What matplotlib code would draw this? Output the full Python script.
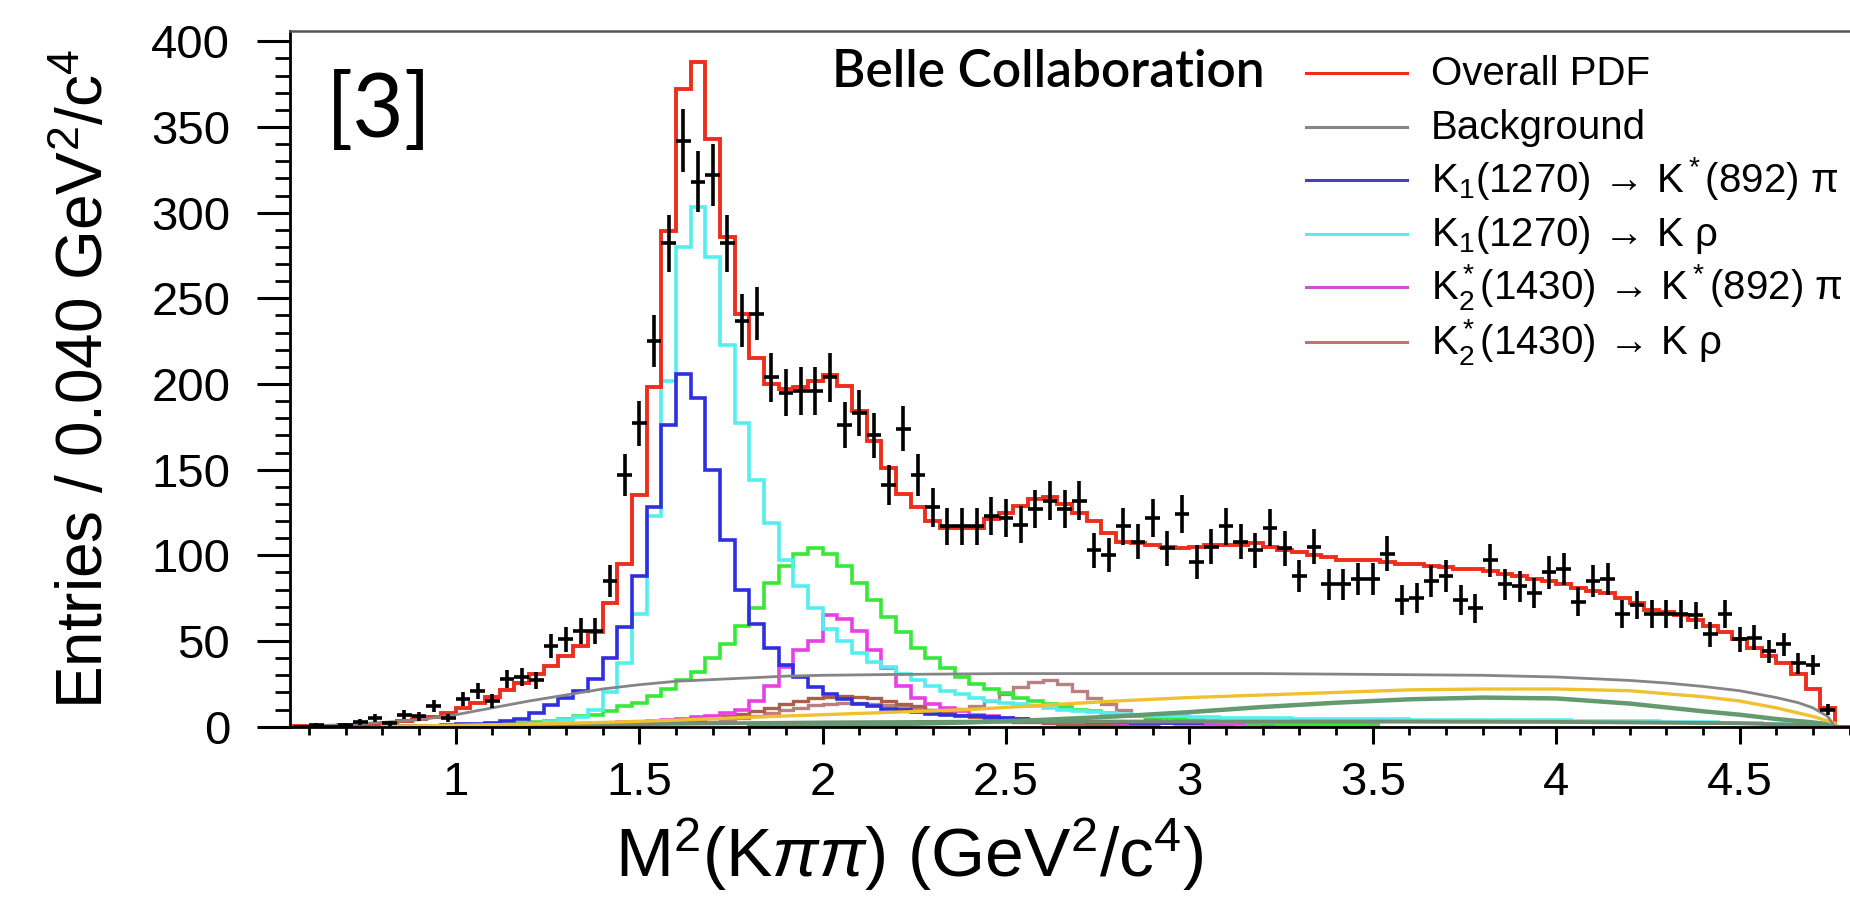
import numpy as np
import matplotlib.pyplot as plt
from matplotlib.lines import Line2D
from matplotlib.ticker import MultipleLocator, FuncFormatter

plt.rcParams['font.family'] = ['Liberation Sans', 'DejaVu Sans']
plt.rcParams['mathtext.fontset'] = 'custom'
plt.rcParams['mathtext.rm'] = 'Liberation Sans'
plt.rcParams['mathtext.it'] = 'Liberation Sans:italic'
plt.rcParams['mathtext.bf'] = 'Liberation Sans:bold'

# binning of M^2(K pi pi): 0.04 GeV^2/c^4
bin_w = 0.04
data_lo = 0.56

# data, bins 0.58 ... 4.74 (centres)
data_counts = [0, 1, 0, 1, 3, 5, 2, 7, 6, 12, 5, 16, 21, 15, 28, 29, 27, 47, 51, 56,
               56, 85, 147, 177, 225, 282, 342, 318, 322, 282, 237, 241, 204, 195, 196, 196, 204, 176, 183, 170,
               141, 174, 147, 128, 117, 117, 117, 123, 122, 118, 127, 132, 127, 132, 103, 100, 117, 108, 122, 104,
               124, 96, 105, 117, 108, 103, 116, 104, 88, 105, 83, 83, 86, 86, 101, 74, 75, 85, 88, 74,
               69, 97, 83, 82, 78, 90, 92, 73, 85, 86, 66, 71, 66, 66, 66, 65, 54, 66, 51, 52,
               44, 48, 37, 36, 10]

# overall fit, same bins as the data
overall_pdf = [0.2, 0.3, 0.5, 0.8, 1.1, 1.6, 2.3, 3.3, 4.4, 5.8, 7.8, 10.7, 13.6, 17.5, 21.5, 25.5, 30.5, 35.5, 41, 47,
               55, 72, 95, 135, 198, 289, 372, 388, 343, 286, 241, 215, 200, 197, 198, 202, 205, 199, 184, 167,
               151, 136, 128, 120, 116, 116, 116, 121, 125, 129, 133, 134, 130, 125, 120, 113, 108, 107, 106, 105,
               104, 105, 106, 106, 106, 107, 105, 103, 102, 100, 99, 97, 97, 97, 96, 95, 95, 94, 93, 92,
               92, 91, 89, 88, 86, 85, 83, 81, 79, 78, 75, 72, 68, 67, 65, 62, 59, 55, 51, 46,
               41, 37, 31, 22, 11]

# K1(1270) -> K*(892) pi, bins from 0.84
k1_kstpi_lo = 0.84
k1_kstpi = [0.3, 0.5, 0.7, 1.0, 1.3, 1.8, 2.4, 3.2, 4.5, 8, 12.7, 16.5, 21, 28, 40, 58, 88, 128, 176, 206,
            192, 150, 109, 80, 60, 46, 36, 29, 23, 19, 16, 13.5, 12, 10.5, 9.5, 8.5, 7.5, 7, 6.5, 6,
            5.5, 5, 4.5, 4, 3.7, 3.4, 3.1, 2.9, 2.7, 2.5, 2.4, 2.3, 2.2, 2.1, 2.0]

# K1(1270) -> K rho, bins from 1.08
k1_krho_lo = 1.08
k1_krho = [0.5, 0.8, 1.2, 1.8, 2.6, 3.8, 5.5, 10, 20, 37, 66, 123, 202, 280, 303, 274, 223, 177, 144, 119,
           97, 82, 69, 57, 50, 43, 38, 35, 31, 27, 24, 21, 19, 17, 15, 14, 13, 12, 11, 10,
           9, 8.5, 8, 7.5, 7, 6.5, 6, 6, 5.5, 5.5, 5, 5, 5, 4.8, 4.8, 4.6, 4.6, 4.5, 4.5, 4.4,
           4.4, 4.3, 4.3, 4.2, 4.2, 4.1, 4.1, 4.0, 4.0, 3.9, 3.9, 3.8, 3.8, 3.7, 3.6, 3.5, 3.4, 3.3, 3.2, 3.1,
           3.0, 2.9, 2.8, 2.6, 2.4, 2.2, 2.0, 1.8, 1.5, 1.2, 0.9, 0.5]

# green component, bins from 1.08
green_lo = 1.08
green_comp = [1, 1.5, 2, 2.5, 3.5, 4.5, 6, 7, 9, 12, 14, 18, 22, 27, 32, 40, 48, 59, 69, 84,
              94, 101, 104, 101, 94, 84, 74, 64, 55, 46, 40, 34, 29, 25, 22, 19.5, 17, 15, 13, 11.5,
              10, 9, 8, 7, 6, 5.5, 5, 4.5, 4, 3.5, 3, 2.7, 2.4, 2.1, 1.8, 1.5, 1.3, 1.1, 1.0, 0.8,
              0.7]

# K2*(1430) -> K*(892) pi, bins from 1.28
k2_kstpi_lo = 1.28
k2_kstpi = [1, 1.3, 1.6, 2, 2.5, 3, 3.5, 4, 4.5, 5.5, 6.5, 8, 10, 15, 24, 35, 45, 50, 65, 63,
            56, 45, 34, 24, 17, 13, 11, 9, 7, 6, 5, 4.5, 4, 3.6, 3.3, 3, 2.8, 2.6, 2.4, 2.2,
            2, 1.9, 1.8, 1.7, 1.6, 1.5, 1.4, 1.3, 1.2, 1.1, 1, 1, 0.9, 0.9, 0.8, 0.8]

# K2*(1430) -> K rho, bins from 1.48
k2_krho_lo = 1.48
k2_krho = [1.5, 2, 2.5, 3, 4, 5, 6, 7.5, 9, 11, 13, 15, 16.5, 17.5, 18, 17.5, 16.5, 15, 13.5, 12,
           10, 8.5, 7, 5.5, 4.5, 3.5, 3, 2.5, 2, 1.7, 1.4, 1.2, 1, 0.8, 0.7, 0.6]

# rosy component with the bump near 2.6, bins from 1.68
rosy_lo = 1.68
rosy_comp = [3, 4, 5, 6.5, 8, 9.5, 11, 12.5, 13.5, 14, 14, 13.5, 12.5, 11.5, 10.5, 10, 10, 10.5, 12, 15,
             19, 23, 26, 27, 25, 21, 17, 13, 9.5, 7, 5, 3.5, 2.5, 2, 1.5, 1]

# smooth components read at a few masses
bkg_m2 = [0.56, 0.6, 0.7, 0.8, 0.9, 1.0, 1.1, 1.2, 1.3, 1.4, 1.5, 1.6, 1.7, 1.8, 1.9, 2.0,
          2.2, 2.5, 2.8, 3.0, 3.2, 3.5, 3.8, 4.0, 4.2, 4.3, 4.4, 4.5, 4.6, 4.66, 4.7, 4.74, 4.76]
bkg_val = [0, 0.4, 1.2, 2.5, 4, 7, 11, 15, 18.5, 22, 24.5, 26.5, 27.5, 28.5, 29.5, 30,
           30.5, 31, 31, 31, 31, 30.5, 30, 29, 27, 25.5, 23.5, 21, 17, 14, 11, 6, 0]

gold_m2 = [0.8, 1.0, 1.2, 1.4, 1.6, 1.8, 2.0, 2.2, 2.4, 2.6, 2.8, 3.0, 3.2, 3.4, 3.6, 3.8,
           4.0, 4.2, 4.4, 4.5, 4.6, 4.7, 4.76]
gold_val = [0.3, 0.8, 1.5, 2.5, 3.8, 5.5, 7, 8.5, 10, 12.5, 15, 17, 18.5, 20, 21.5, 22,
            22, 21, 17.5, 15, 11, 6, 2]

sea_m2 = [1.8, 2.0, 2.2, 2.4, 2.6, 2.8, 3.0, 3.2, 3.4, 3.6, 3.8, 4.0, 4.2, 4.4, 4.5, 4.6, 4.7, 4.76]
sea_val = [0.5, 1, 1.5, 2.5, 4, 6, 8.5, 11.5, 14, 16, 17, 16.5, 13.5, 9, 7, 4.5, 2.5, 1]

low_m2 = [1.0, 1.5, 2.0, 2.5, 3.0, 3.5, 4.0, 4.5, 4.76]
low_val = [0.5, 1.5, 2.5, 3, 3, 3, 2.8, 2, 0.5]

legend_labels = ['Overall PDF', 'Background',
                 r'K$_1$(1270)$\,\rightarrow\,$K$^*$(892) π',
                 r'K$_1$(1270)$\,\rightarrow\,$K ρ',
                 r'K$_2^*$(1430)$\,\rightarrow\,$K$^*$(892) π',
                 r'K$_2^*$(1430)$\,\rightarrow\,$K ρ']

c_red = '#ee2e1c'
c_gray = '#858585'
c_blue = '#2f2fe0'
c_cyan = '#55eef0'
c_green = '#38e838'
c_mag = '#e640e6'
c_brown = '#a86048'
c_rosy = '#b88080'
c_gold = '#f0c030'
c_sea = '#639a70'


def edges_from(lo, vals):
    return np.round(lo + bin_w * np.arange(len(vals) + 1), 4)


W, H = 1850, 907
fig = plt.figure(figsize=(W / 100, H / 100), dpi=100)
ax = fig.add_axes([290 / W, 1 - 726.7 / H, 1 - 290 / W, (726.7 - 31) / H])

# smooth components
ax.plot(low_m2, low_val, color='#6f8f70', lw=2.8)
ax.plot(sea_m2, sea_val, color=c_sea, lw=3.2)
ax.plot(gold_m2, gold_val, color=c_gold, lw=2.4)
ax.plot(bkg_m2, bkg_val, color=c_gray, lw=2)

# binned components
ax.stairs(rosy_comp, edges_from(rosy_lo, rosy_comp), baseline=None, color=c_rosy, lw=2.4)
ax.stairs(k2_krho, edges_from(k2_krho_lo, k2_krho), baseline=None, color=c_brown, lw=2.4)
ax.stairs(k2_kstpi, edges_from(k2_kstpi_lo, k2_kstpi), baseline=None, color=c_mag, lw=2.6)
ax.stairs(green_comp, edges_from(green_lo, green_comp), baseline=None, color=c_green, lw=2.6)
ax.stairs(k1_krho, edges_from(k1_krho_lo, k1_krho), baseline=None, color=c_cyan, lw=2.6)
ax.stairs(k1_kstpi, edges_from(k1_kstpi_lo, k1_kstpi), baseline=None, color=c_blue, lw=2.6)

# overall pdf
data_edges = edges_from(data_lo, overall_pdf)
ax.stairs(overall_pdf, data_edges, baseline=0, color=c_red, lw=2.8)

ax.set_xlim(0.548, 4.801)
ax.set_ylim(0, 406)
xlo, xhi = ax.get_xlim()
ax.plot([xlo, data_edges[0]], [0, 0], color=c_red, lw=2.8)
ax.plot([data_edges[-1], xhi], [0, 0], color=c_red, lw=2.8)

# data points
centres = (data_edges[:-1] + data_edges[1:]) / 2
counts = np.array(data_counts, dtype=float)
ax.errorbar(centres, counts, yerr=np.sqrt(counts), xerr=bin_w / 2, fmt='none',
            ecolor='black', elinewidth=2.6, capsize=0, zorder=5)

# axes styling
ax.spines['right'].set_visible(False)
ax.spines['top'].set_color('#555555')
ax.spines['top'].set_linewidth(1.8)
ax.spines['left'].set_linewidth(2)
ax.spines['bottom'].set_linewidth(2)

ax.xaxis.set_major_locator(MultipleLocator(0.5))
ax.xaxis.set_minor_locator(MultipleLocator(0.1))
ax.yaxis.set_major_locator(MultipleLocator(50))
ax.yaxis.set_minor_locator(MultipleLocator(10))
ax.xaxis.set_major_formatter(FuncFormatter(lambda v, p: f'{v:g}'))
ax.tick_params(axis='y', which='major', direction='out', length=24, width=2.2, labelsize=34, pad=19)
ax.tick_params(axis='y', which='minor', direction='out', length=11, width=2)
ax.tick_params(axis='x', which='major', direction='out', length=12, width=2.2, labelsize=34, pad=13)
ax.tick_params(axis='x', which='minor', direction='out', length=6, width=2)

ax.set_xlabel(r'M$^2$(K$\pi\pi$) (GeV$^2$/c$^4$)', fontsize=50)
ax.xaxis.set_label_coords((909 - 290) / 1560, -0.128)
ax.set_ylabel('Entries / 0.040 GeV$^2$/c$^4$', fontsize=46)
ax.yaxis.set_label_coords((116 - 290) / 1560, 0.5)

# annotations
fig.text(326 / W, 1 - 137 / H, '[3]', fontsize=64, family='Lato',
         ha='left', va='baseline')
fig.text(832 / W, 1 - 87 / H, 'Belle Collaboration', fontsize=37, family='Lato',
         fontweight='semibold', ha='left', va='baseline')

# legend
leg_colors = [c_red, c_gray, '#4a3fb8', c_cyan, '#d050d0', '#c87070']
leg_rows = [73, 127, 180, 234, 287, 342]
for lab, col, ry in zip(legend_labels, leg_colors, leg_rows):
    fig.add_artist(Line2D([1306 / W, 1407 / W], [1 - ry / H, 1 - ry / H],
                          transform=fig.transFigure, color=col, lw=2.2))
    fig.text(1431 / W, 1 - (ry + 12) / H, lab, fontsize=29, ha='left', va='baseline')

fig.savefig('out.png', dpi=100)
